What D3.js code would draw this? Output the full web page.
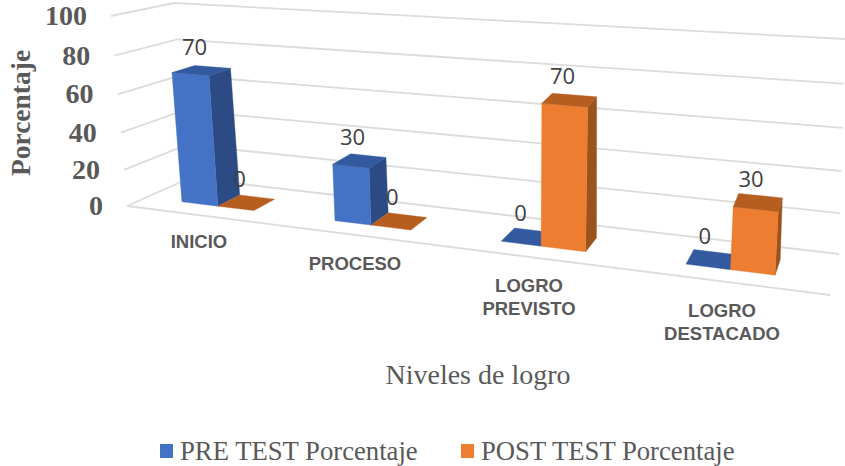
<!DOCTYPE html>
<html><head><meta charset="utf-8">
<script src="https://cdn.jsdelivr.net/npm/d3@7/dist/d3.min.js"></script>
<style>html,body{margin:0;padding:0;background:#fff}svg{display:block}</style>
</head><body><svg id="c" width="845" height="466"></svg>
<script>
const categories = [["INICIO"],["PROCESO"],["LOGRO","PREVISTO"],["LOGRO","DESTACADO"]];
const seriesNames = ["PRE TEST Porcentaje","POST TEST Porcentaje"];
const preTest = [70,30,0,0];
const postTest = [0,0,70,30];
const yTicks = [0,20,40,60,80,100];

const svg = d3.select("#c");
const grey = "#595959";
const serif = "'Liberation Serif','Times New Roman',serif";
const sans = "'Liberation Sans',Arial,sans-serif";

// box corners of the 3D plot: [depth][side] at floor and ceiling
const floor = {fl:[127,206],fr:[830,295],bl:[190,178],br:[839,254]};
const ceil  = {fl:[111,16],fr:[847,68],bl:[174,3],br:[845,39]};
const uScale = d3.scaleLinear().domain([0,1,2,3]).range([.104,.327,.575,.851]);
const hScale = d3.scaleLinear().domain(yTicks).range([0,.19,.386,.587,.792,1]);
const lerp = (a,b,t)=>a+(b-a)*t;
const mix = (p,q,t)=>[lerp(p[0],q[0],t),lerp(p[1],q[1],t)];
function project(u,v,val){
  const h = hScale(val);
  const a = mix(mix(floor.fl,floor.fr,u),mix(floor.bl,floor.br,u),v);
  const b = mix(mix(ceil.fl,ceil.fr,u),mix(ceil.bl,ceil.br,u),v);
  return mix(a,b,h);
}
const line = d3.line();

// grid
const grid = svg.append("g").attr("fill","none").attr("stroke","#dcdcdc").attr("stroke-width",1.8);
yTicks.forEach(t=>{
  grid.append("path").attr("d",line([project(0,0,t),project(0,1,t),project(1,1,t)]));
});
grid.append("path").attr("d",line([project(0,0,0),project(1,0,0)]));

// bars
const v0=.31, v1=.69, halfW=.235;
const palette=[
  {front:"#4472C4",side:"#2C4B84",top:"#335A9E"},
  {front:"#ED7D31",side:"#9A531C",top:"#B55E20"}];
const labels=[];
[preTest,postTest].forEach((vals,s)=>{
  const g=svg.append("g");
  vals.forEach((val,i)=>{
    const a=uScale(i+(s===0?-halfW:0)), b=uScale(i+(s===0?0:halfW));
    const c=palette[s];
    const poly=(pts,f)=>g.append("path").attr("d",line(pts)+"Z").attr("fill",f).attr("stroke",f).attr("stroke-width",.4);
    if(val>0){
      poly([project(b,v0,0),project(b,v1,0),project(b,v1,val),project(b,v0,val)],c.side);
      poly([project(a,v0,0),project(b,v0,0),project(b,v0,val),project(a,v0,val)],c.front);
    }
    poly([project(a,v0,val),project(b,v0,val),project(b,v1,val),project(a,v1,val)],c.top);
    labels.push({val,p:project((a+b)/2,.5,val)});
  });
});
svg.append("g").selectAll("text").data(labels).join("text")
  .attr("x",d=>d.p[0]-7).attr("y",d=>d.p[1]-16)
  .attr("text-anchor","middle").attr("font-family","'Open Sans',sans-serif")
  .attr("font-size",22).attr("fill","#404040").text(d=>d.val);

// y tick labels
svg.append("g").selectAll("text").data(yTicks).join("text")
  .attr("x",d=>project(0,0,d)[0]-24).attr("y",d=>project(0,0,d)[1]+9)
  .attr("text-anchor","end").attr("font-family",serif).attr("font-weight","bold")
  .attr("font-size",28).attr("fill",grey).text(d=>d);
svg.append("text").attr("transform","translate(30,113) rotate(-90)")
  .attr("text-anchor","middle").attr("font-family",serif).attr("font-weight","bold")
  .attr("font-size",27.5).attr("fill",grey).text("Porcentaje");

// category labels
const catPos=[[199,248],[355,270],[529,292],[722,317]];
svg.append("g").selectAll("text").data(categories).join("text")
  .attr("font-family",sans).attr("font-weight","bold").attr("font-size",18.5)
  .attr("fill",grey).attr("text-anchor","middle")
  .each(function(d,i){
    d3.select(this).selectAll("tspan").data(d).join("tspan")
      .attr("x",catPos[i][0]).attr("y",(_,k)=>catPos[i][1]+k*23).text(t=>t);
  });

svg.append("text").attr("x",478).attr("y",384).attr("text-anchor","middle")
  .attr("font-family",serif).attr("font-size",28).attr("fill",grey).text("Niveles de logro");

// legend
const legX=[[160,180],[461,481]];
seriesNames.forEach((n,i)=>{
  svg.append("rect").attr("x",legX[i][0]).attr("y",444).attr("width",13).attr("height",14).attr("fill",palette[i].front);
  svg.append("text").attr("x",legX[i][1]).attr("y",460).attr("font-family",serif)
    .attr("font-size",26.7).attr("fill",grey).text(n);
});
</script></body></html>
